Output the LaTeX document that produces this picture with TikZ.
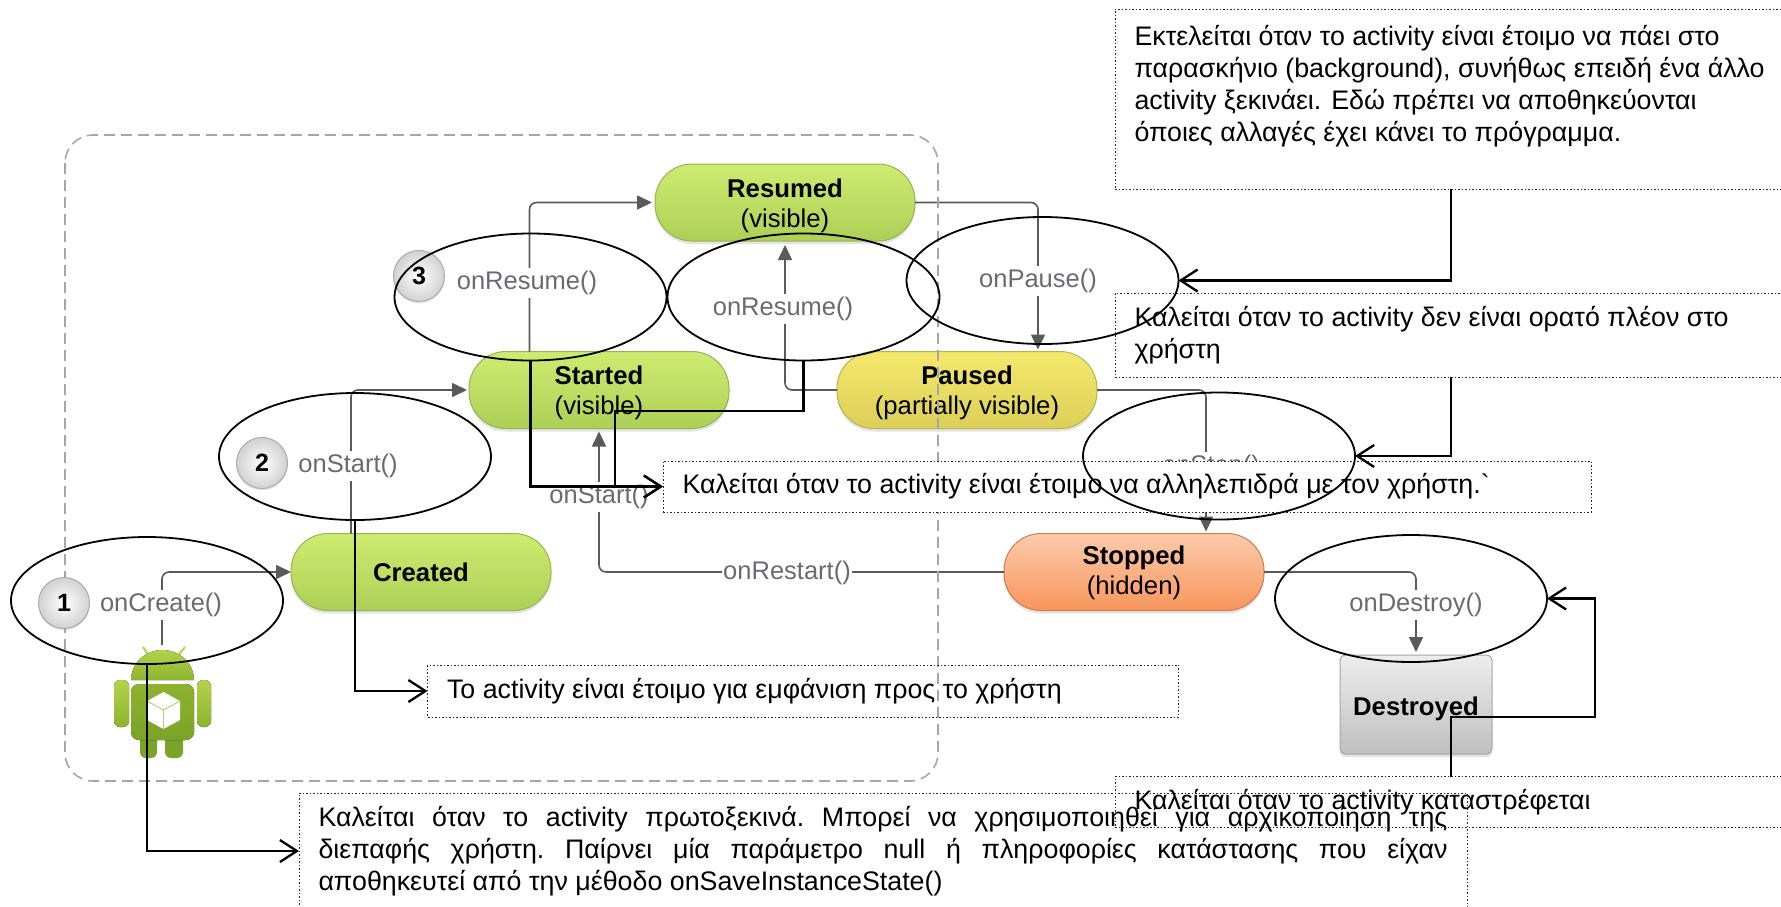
\documentclass[tikz,border=0pt]{standalone}
\usepackage{fontspec}
\setmainfont{Liberation Sans}
\newfontfamily\plainf{Liberation Sans}
\usetikzlibrary{arrows.meta,shapes.geometric,shadows}
\definecolor{conn}{HTML}{5A5A5A}
\definecolor{lab}{HTML}{6A6A72}
\definecolor{green1}{HTML}{CFEB72}
\definecolor{green2}{HTML}{ADCF55}
\definecolor{pillline}{HTML}{93B552}
\definecolor{yell1}{HTML}{F4E86C}
\definecolor{yell2}{HTML}{DCCF58}
\definecolor{yellline}{HTML}{B5B450}
\definecolor{oran1}{HTML}{FCCBAC}
\definecolor{oran2}{HTML}{F8965C}
\definecolor{oranline}{HTML}{D27A4A}
\definecolor{robot}{HTML}{8DB32E}
\definecolor{robotl}{HTML}{B4D24C}
\definecolor{robotd}{HTML}{7AA428}
\newcommand\lifted[1]{\rule{0pt}{#1pt}}
\newcommand\jline[1]{\leavevmode\hbox to 1129pt{\frenchspacing #1}}
\tikzset{
  x=1pt,y=-1pt,
  pill/.style={rectangle,rounded corners=37pt,minimum width=260pt,minimum height=77pt,inner sep=0pt,outer sep=0pt,align=flush center,
    font=\fontsize{25.7}{30}\selectfont,text=black,drop shadow={opacity=.22,shadow xshift=0pt,shadow yshift=-3pt},line width=1pt},
  greenpill/.style={pill,draw=pillline,top color=green1,bottom color=green2},
  graybox/.style={rectangle,rounded corners=5pt,minimum width=152pt,minimum height=99pt,inner sep=0pt,outer sep=0pt,font=\fontsize{25.7}{29}\selectfont,
    draw=black!35,top color=black!7,bottom color=black!25,drop shadow={opacity=.22,shadow xshift=0pt,shadow yshift=-3pt},line width=1pt},
  flow/.style={draw=conn,line width=1.6pt,rounded corners=7pt,-{Triangle[length=15pt,width=14pt]}},
  lbl/.style={font=\fontsize{25.5}{29}\selectfont,text=lab,fill=white,inner xsep=1pt,inner ysep=3pt,outer sep=0pt},
  badge/.style={circle,minimum size=51pt,inner sep=0pt,draw=black!33,line width=1pt,inner color=white,outer color=black!18,font=\bfseries\fontsize{25}{29}\selectfont,
    drop shadow={opacity=.18,shadow xshift=0pt,shadow yshift=-2pt}},
  ell/.style={ellipse,draw=black,line width=1.8pt,minimum width=272pt,minimum height=127pt,inner sep=0pt,outer sep=0pt},
  note/.style={rectangle,draw=black!85,line width=.8pt,dash pattern=on 2pt off 2pt on 1pt off 2pt,inner xsep=19.5pt,inner ysep=0pt,outer sep=0pt,
    font=\fontsize{26.8}{32}\selectfont,align=flush left,text=black},
  call/.style={draw=black,line width=2.3pt,-{Straight Barb[length=17pt,width=22pt,line width=2.3pt]}},
}
\begin{document}
\begin{tikzpicture}
\useasboundingbox (0,0) rectangle (1781,906);
\clip (0,0) rectangle (1781,906);
% state nodes
\node[greenpill] (Resumed) at (785,202.5) {\lifted{25}\textbf{Resumed}\\(visible)};
\node[greenpill] (Started) at (599,390) {\lifted{25}\textbf{Started}\\(visible)};
\node[pill,draw=yellline,top color=yell1,bottom color=yell2] (Paused) at (967,390) {\lifted{25}\textbf{Paused}\\(partially visible)};
\node[greenpill] (Created) at (421,572) {\textbf{Created}};
\node[pill,draw=oranline,top color=oran1,bottom color=oran2] (Stopped) at (1134,572) {\lifted{21}\textbf{Stopped}\\(hidden)};
\node[graybox] (Destroyed) at (1416,704.5) {\lifted{28}\textbf{Destroyed}};
% robot
\coordinate (robotTop) at (162,645);
\begin{scope}
  \draw[robotl,line width=2pt] (143,647) -- (150,657) (185,647) -- (177,657);
  \fill[robotd,rounded corners=6pt] (140,725) rectangle (157,758);
  \fill[robotd,rounded corners=6pt] (165,725) rectangle (183,758);
  \fill[top color=robotl,bottom color=robot] (131,680) arc[start angle=180,end angle=0,x radius=31.5pt,y radius=30pt] -- cycle;
  \fill[top color=robot,bottom color=robotd,rounded corners=8pt] (131,684) rectangle (194,740);
  \fill[top color=robotl,bottom color=robot,rounded corners=6pt] (114,680) rectangle (129,727);
  \fill[top color=robotl,bottom color=robot,rounded corners=6pt] (197,680) rectangle (211,727);
  \fill[white] (163.5,692) -- (180,701) -- (180,720) -- (163.5,729) -- (147,720) -- (147,701) -- cycle;
  \draw[robot!60!white,line width=1pt] (147,701) -- (163.5,710) -- (180,701) (163.5,710) -- (163.5,729);
\end{scope}
% grey connectors
\draw[flow] (robotTop) |- (Created.west);
\draw[flow,shorten >=2pt] ([xshift=-70pt]Created.north) |- (Started.west);
\draw[flow,shorten >=3pt] ([xshift=-69.5pt]Started.north) |- (Resumed.west);
\draw[flow,shorten >=2pt] (Resumed.east) -| ([xshift=71pt]Paused.north);
\draw[flow,shorten >=4pt] (Paused.west) -| (Resumed.south);
\draw[flow,shorten >=2pt] (Paused.east) -| ([xshift=72pt]Stopped.north);
\draw[flow,shorten >=3pt] (Stopped.west) -| (Started.south);
\draw[flow,shorten >=3pt] (Stopped.east) -| (Destroyed.north);
% group frame
\draw[black!35,line width=1.6pt,dash pattern=on 11pt off 6pt,rounded corners=28pt] (65,135) rectangle (938,781);
% labels
\node[lbl] (lCreate) at (161,605) {onCreate()};
\node[lbl] (lStart) at (348,466) {onStart()};
\node[lbl] (lResumeA) at (527,283) {onResume()};
\node[lbl] (lResumeB) at (783,309) {onResume()};
\node[lbl] (lPause) at (1038,281) {onPause()};
\node[lbl] (lStartB) at (599,497) {onStart()};
\node[lbl] (lStop) at (1211,467) {onStop()};
\node[lbl] (lRestart) at (787,573) {onRestart()};
\node[lbl] (lDestroy) at (1416,605) {onDestroy()};
\node[badge] (b1) at (64,603) {1};
\node[badge] (b2) at (262,463) {2};
\node[badge] (b3) at (419,276) {3};
% notes
\node[note,text width=633pt,minimum height=180pt] (A) at (1451,99) {Εκτελείται όταν το activity είναι έτοιμο να πάει στο\\παρασκήνιο (background), συνήθως επειδή ένα άλλο\\activity ξεκινάει.  Εδώ πρέπει να αποθηκεύονται\\όποιες αλλαγές έχει κάνει το πρόγραμμα.\\\mbox{}};
\node[note,text width=633pt,minimum height=84pt] (B) at (1451,335) {Καλείται όταν το activity δεν είναι ορατό πλέον στο\\χρήστη};
\node[note,fill=white,text width=889pt,minimum height=51pt] (C) at (1127,486.5) {Καλείται όταν το activity είναι έτοιμο να αλληλεπιδρά με τον χρήστη.{\plainf`}};
\node[note,text width=712pt,minimum height=52pt] (D) at (803,691) {Το activity είναι έτοιμο για εμφάνιση προς το χρήστη};
\node[note,text width=1129pt,minimum height=116pt] (E) at (883,851) {\jline{Καλείται όταν το activity πρωτοξεκινά. Μπορεί να χρησιμοποιηθεί για αρχικοποίηση της}\\\jline{διεπαφής χρήστη. Παίρνει μία παράμετρο null ή πληροφορίες κατάστασης που είχαν}\\αποθηκευτεί από την μέθοδο onSaveInstanceState()};
\node[note,text width=633pt,minimum height=51pt] (F) at (1451,802) {Καλείται όταν το activity καταστρέφεται};
% ellipses
\node[ell] (e1) at (147,600.5) {};
\node[ell] (e2) at (355,456.5) {};
\node[ell] (e3) at (530.5,297) {};
\node[ell] (e4) at (803.5,297) {};
\node[ell] (e5) at (1042.5,280.5) {};
\node[ell] (e6) at (1219,456) {};
\node[ell] (e7) at (1411,598.5) {};
% callouts
\coordinate (j4) at (615,411);
\coordinate (jF) at (1595,717);
\draw[call] (e1.south) |- (E.west);
\draw[call] (e2.south) |- (D.west);
\draw[call] (e3.south) |- (C.west);
\draw[call] (e4.south) |- (j4) |- (C.west);
\draw[call] (A.south) |- (e5.east);
\draw[call] (B.south) |- (e6.east);
\draw[call] (F.north) |- (jF) |- (e7.east);
\end{tikzpicture}
\end{document}
